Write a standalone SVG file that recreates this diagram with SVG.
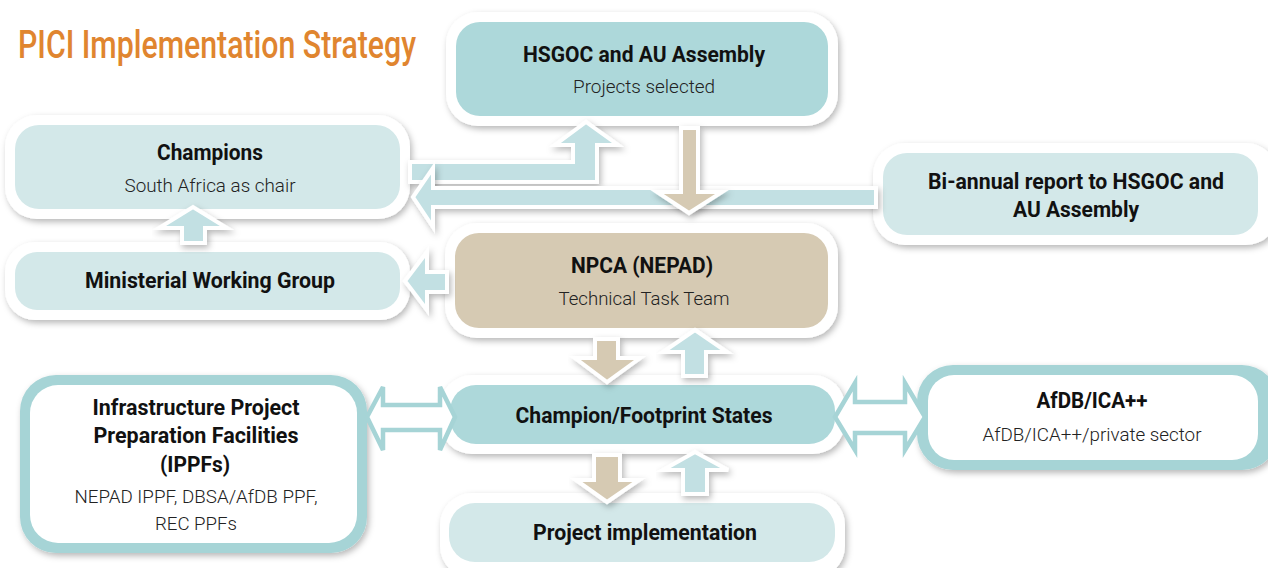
<svg xmlns="http://www.w3.org/2000/svg" width="1268" height="568" viewBox="0 0 1268 568">
<defs>
<filter id="sh" x="-10%" y="-20%" width="130%" height="150%">
<feDropShadow dx="2" dy="3" stdDeviation="3" flood-color="#000" flood-opacity="0.28"/>
</filter>
<style>
.outer{fill:#fff;filter:url(#sh)}
.teal{fill:#ADD8DA}
.light{fill:#D3E8E9}
.tan{fill:#D6CAB3}
.bord{fill:#A6D4D6;filter:url(#sh)}
.white{fill:#fff}
.b{font-family:Roboto,"Liberation Sans",sans-serif;font-weight:700;font-size:22px;fill:#111;text-anchor:middle}
.s{font-family:Roboto,"Liberation Sans",sans-serif;font-weight:300;font-size:19px;fill:#222;text-anchor:middle}
.at{fill:#C2E0E3;stroke:#fff;stroke-width:4;stroke-linejoin:miter;filter:url(#sh)}
.ab{fill:#D6CAB3;stroke:#fff;stroke-width:4;stroke-linejoin:miter;filter:url(#sh)}
.ad{fill:#fff;stroke:#A6D4D6;stroke-width:4.5;stroke-linejoin:miter}
.title{font-family:Roboto,"Liberation Sans",sans-serif;font-weight:500;font-size:38px;fill:#E0852F}
</style>
</defs>
<text class="title" x="18" y="58" textLength="398" lengthAdjust="spacingAndGlyphs">PICI Implementation Strategy</text>

<g id="hsgoc">
<rect class="outer" x="446" y="12" width="392" height="114" rx="32"/>
<rect class="teal" x="456" y="22" width="372" height="94" rx="24"/>
<text class="b" x="644" y="62" textLength="242" lengthAdjust="spacingAndGlyphs">HSGOC and AU Assembly</text>
<text class="s" x="644" y="93" textLength="142" lengthAdjust="spacingAndGlyphs">Projects selected</text>
</g>

<g id="champions">
<rect class="outer" x="5" y="115" width="405" height="104" rx="32"/>
<rect class="light" x="15" y="125" width="385" height="84" rx="24"/>
<text class="b" x="210" y="160" textLength="106" lengthAdjust="spacingAndGlyphs">Champions</text>
<text class="s" x="210" y="192" textLength="171" lengthAdjust="spacingAndGlyphs">South Africa as chair</text>
</g>

<g id="mwg">
<rect class="outer" x="5" y="242" width="405" height="78" rx="30"/>
<rect class="light" x="15" y="252" width="385" height="58" rx="22"/>
<text class="b" x="210" y="288" textLength="250" lengthAdjust="spacingAndGlyphs">Ministerial Working Group</text>
</g>

<g id="biannual">
<rect class="outer" x="873" y="143" width="405" height="102" rx="32"/>
<rect class="light" x="883" y="153" width="375" height="82" rx="24"/>
<text class="b" x="1076" y="189" textLength="296" lengthAdjust="spacingAndGlyphs">Bi-annual report to HSGOC and</text>
<text class="b" x="1076" y="217" textLength="126" lengthAdjust="spacingAndGlyphs">AU Assembly</text>
</g>

<g id="npca">
<rect class="outer" x="445" y="223" width="393" height="115" rx="32"/>
<rect class="tan" x="455" y="233" width="373" height="95" rx="24"/>
<text class="b" x="642" y="273" textLength="142" lengthAdjust="spacingAndGlyphs">NPCA (NEPAD)</text>
<text class="s" x="644" y="305" textLength="171" lengthAdjust="spacingAndGlyphs">Technical Task Team</text>
</g>

<g id="states">
<rect class="outer" x="440" y="375" width="405" height="79" rx="32"/>
<rect class="teal" x="450" y="385" width="385" height="59" rx="26"/>
<text class="b" x="644" y="423" textLength="257" lengthAdjust="spacingAndGlyphs">Champion/Footprint States</text>
</g>

<g id="implementation">
<rect class="outer" x="440" y="493" width="405" height="85" rx="32"/>
<rect class="light" x="449" y="503" width="386" height="59" rx="26"/>
<text class="b" x="645" y="540" textLength="224" lengthAdjust="spacingAndGlyphs">Project implementation</text>
</g>

<g id="ippf">
<rect class="bord" x="20" y="375" width="347" height="178" rx="36"/>
<rect class="white" x="30" y="385" width="327" height="158" rx="28"/>
<text class="b" x="196" y="415" textLength="207" lengthAdjust="spacingAndGlyphs">Infrastructure Project</text>
<text class="b" x="196" y="443" textLength="205" lengthAdjust="spacingAndGlyphs">Preparation Facilities</text>
<text class="b" x="195" y="472" textLength="70" lengthAdjust="spacingAndGlyphs">(IPPFs)</text>
<text class="s" x="196" y="503" style="font-size:18px" textLength="243" lengthAdjust="spacingAndGlyphs">NEPAD IPPF, DBSA/AfDB PPF,</text>
<text class="s" x="196" y="530" style="font-size:18px" textLength="82" lengthAdjust="spacingAndGlyphs">REC PPFs</text>
</g>

<g id="afdb">
<rect class="bord" x="917" y="365" width="361" height="105" rx="36"/>
<rect class="white" x="928" y="375" width="330" height="85" rx="26"/>
<text class="b" x="1092" y="408" textLength="111" lengthAdjust="spacingAndGlyphs">AfDB/ICA++</text>
<text class="s" x="1092" y="441" textLength="219" lengthAdjust="spacingAndGlyphs">AfDB/ICA++/private sector</text>
</g>

<g id="connectors">
<path class="at" d="M410,162 L573,162 L573,145 L555,145 L586,122 L618,145 L597,145 L597,182 L410,182 Z"/>
<path class="at" d="M876,188 L433,188 L433,168 L413,197 L433,227 L433,207 L876,207 Z"/>
<path class="ab" d="M681,128 L698,128 L698,192 L722,192 L689,213 L657,192 L681,192 Z"/>
<path class="at" d="M447,272 L427,272 L427,252 L405,281 L427,310 L427,292 L447,292 Z"/>
<path class="at" d="M182,243 L182,228 L159,228 L193,207 L227,228 L205,228 L205,243 Z"/>
<path class="ab" d="M595,339 L618,339 L618,358 L640,358 L607,382 L575,358 L595,358 Z"/>
<path class="at" d="M683,376 L683,352 L663,352 L695,330 L727,352 L706,352 L706,376 Z"/>
<path class="ab" d="M594,455 L620,455 L620,480 L639,480 L607,502 L576,480 L594,480 Z"/>
<path class="at" d="M683,494 L683,470 L663,470 L695,452 L728,470 L707,470 L707,494 Z"/>
<path class="ad" d="M367,417 L383,387 L383,405 L440,405 L440,387 L455,417 L440,450 L440,430 L383,430 L383,450 Z"/>
<path class="ad" d="M835,417 L855,383 L855,402 L905,402 L905,383 L925,417 L905,450 L905,433 L855,433 L855,450 Z"/>
</g>
</svg>
